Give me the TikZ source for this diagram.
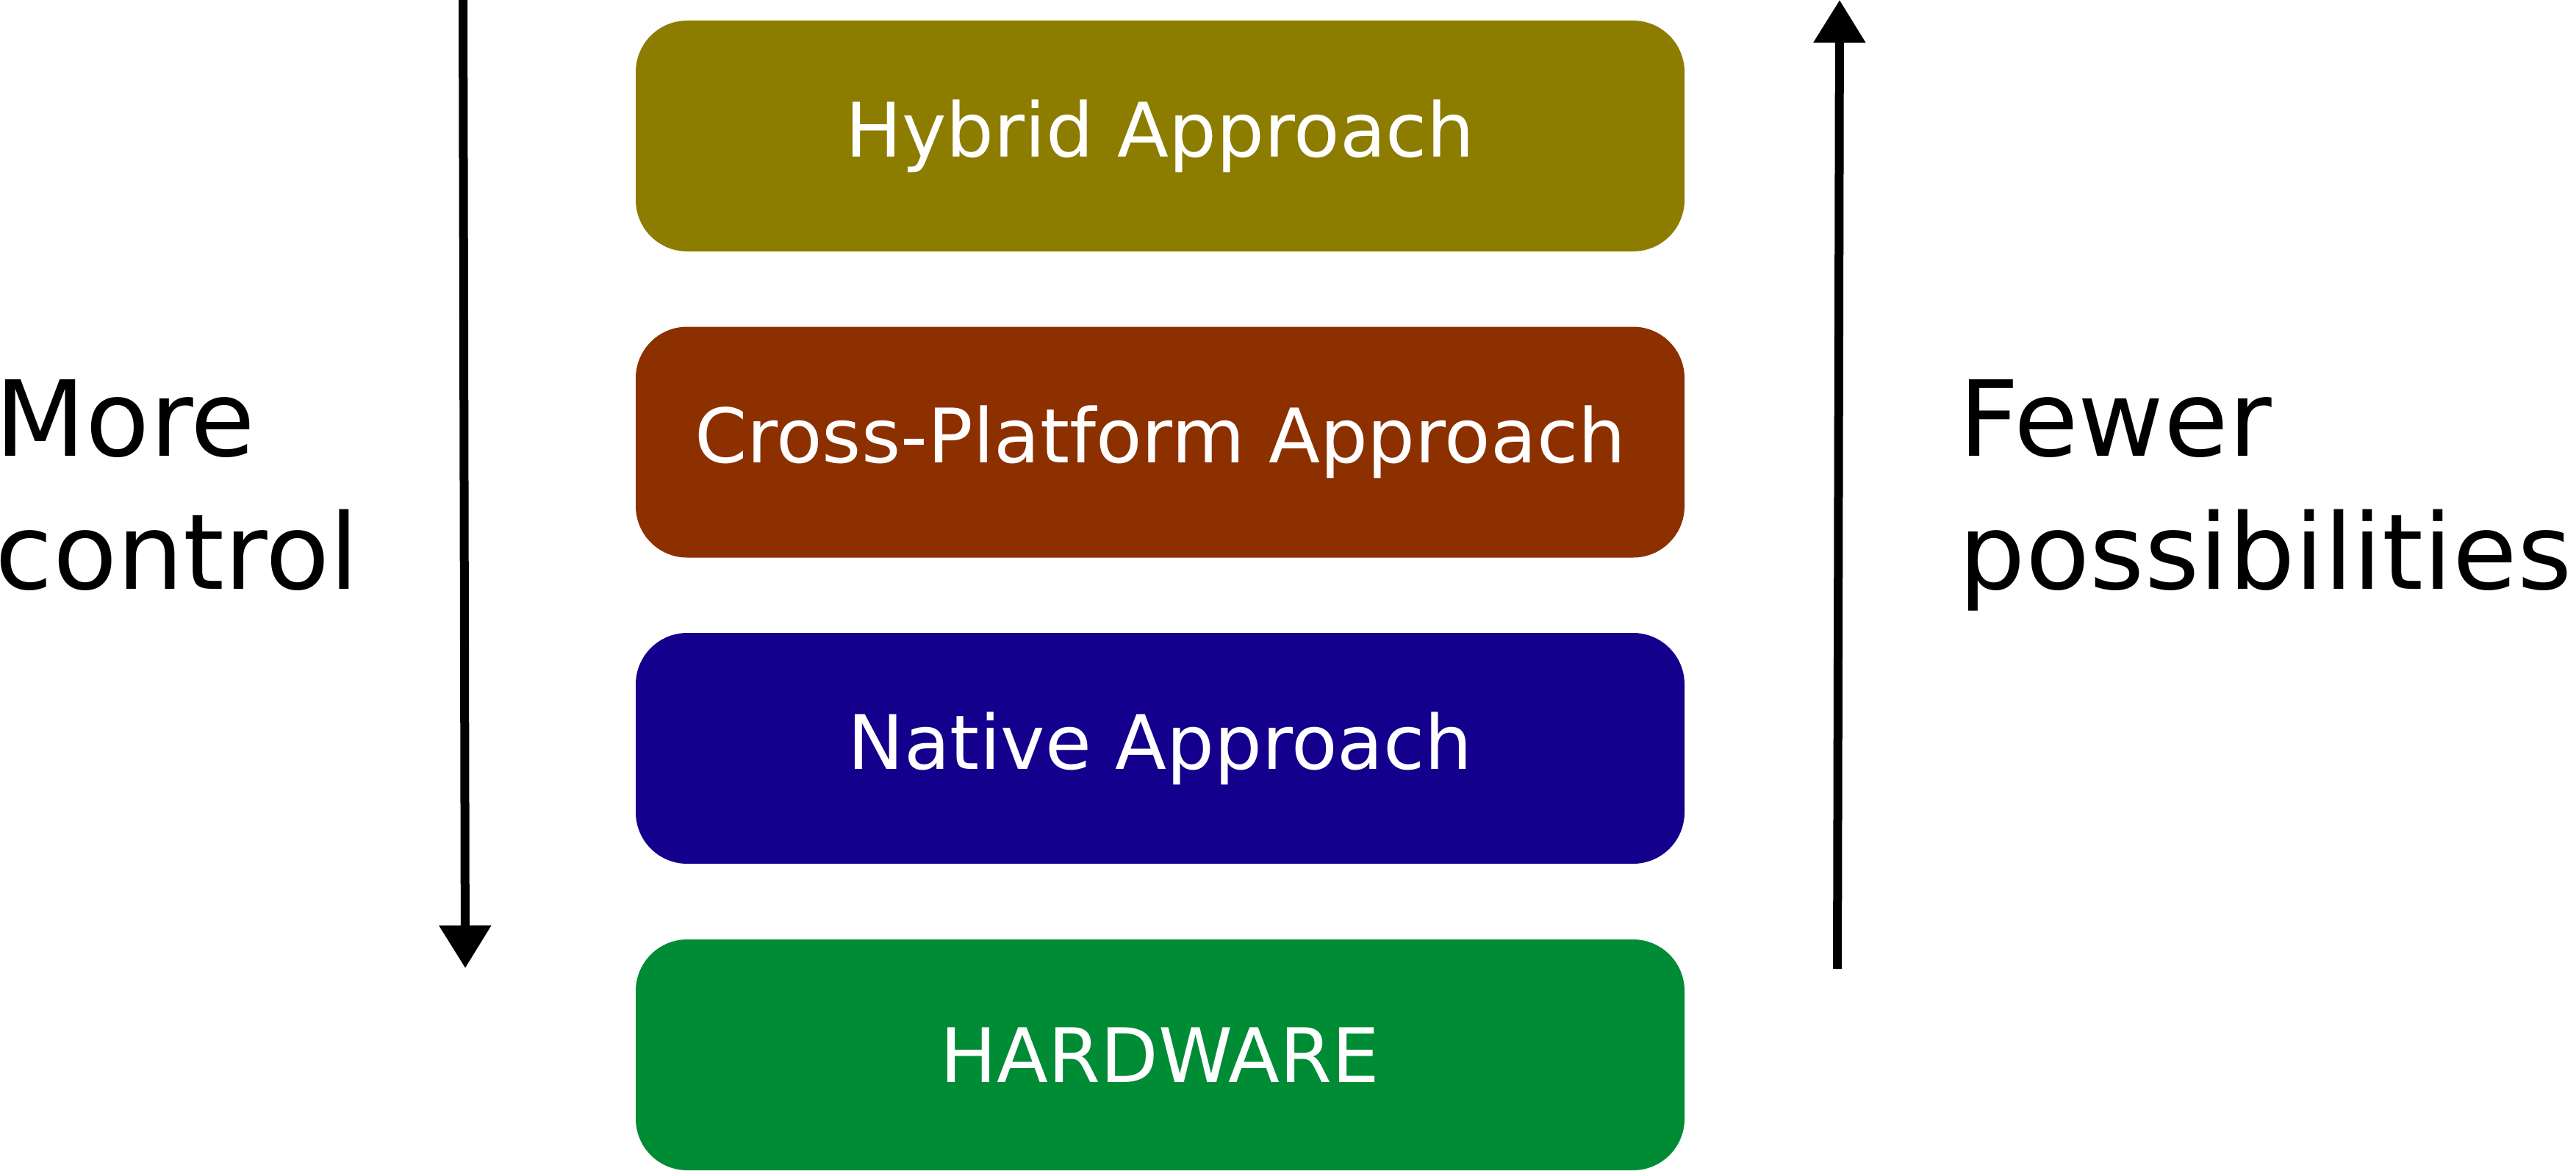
\documentclass[tikz,border=0pt]{standalone}
\usepackage{fontspec}
\setmainfont{DejaVu Sans}
\usetikzlibrary{arrows.meta}
\definecolor{hybridc}{HTML}{8C7D00}
\definecolor{crossc}{HTML}{8C3000}
\definecolor{nativec}{HTML}{14008C}
\definecolor{hardc}{HTML}{008C35}
\begin{document}
\begin{tikzpicture}[
  layerbox/.style={rounded corners=0.7cm, minimum width=14.27cm, minimum height=3.14cm,
    inner sep=0pt, text=white, font=\fontsize{29.1}{35}\selectfont},
  sidelabel/.style={inner sep=0pt, anchor=base west, align=left,
    font=\fontsize{40.6}{51.5}\selectfont},
  bigarrow/.style={line width=0.12cm, -{Triangle[width=0.68cm, length=0.58cm]}}
]
\useasboundingbox (0,0) rectangle (35.05,15.92);
\node[layerbox, fill=hybridc] (hybrid) at (15.785,14.07) {Hybrid Approach};
\node[layerbox, fill=crossc] (cross) at (15.785,9.905) {Cross-Platform Approach};
\node[layerbox, fill=nativec] (native) at (15.785,5.74) {Native Approach};
\node[layerbox, fill=hardc] (hardware) at (15.785,1.57) {HARDWARE};
\coordinate (ltop) at (6.30,15.92);
\coordinate (lbot) at (6.33,2.75);
\coordinate (rbot) at (25.00,2.74);
\coordinate (rtop) at (25.03,15.92);
\draw[bigarrow] (ltop) -- (lbot);
\draw[bigarrow] (rbot) -- (rtop);
\node[sidelabel] (more) at (-0.07,7.91) {More\\control};
\node[sidelabel] (fewer) at (26.65,7.91) {Fewer\\possibilities};
\end{tikzpicture}
\end{document}
